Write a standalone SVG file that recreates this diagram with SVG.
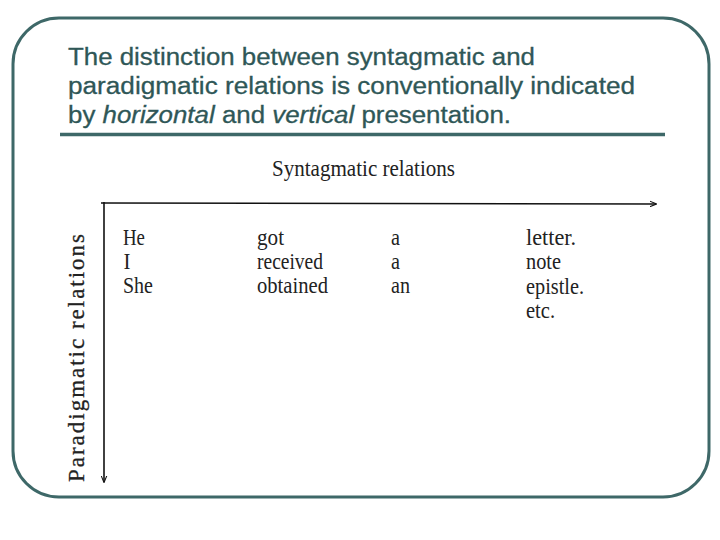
<svg xmlns="http://www.w3.org/2000/svg" width="720" height="540" viewBox="0 0 720 540">
<style>
.title{font-family:"Liberation Sans",Arial,sans-serif;font-size:23.5px;fill:#2f5757;stroke:#2f5757;stroke-width:0.3}
.w{font-family:"Liberation Serif","Times New Roman",serif;font-size:23.5px;fill:#222}
.ax{stroke:#111;stroke-width:1.6;fill:none}
</style>
<defs>
<marker id="ah" viewBox="0 0 10 10" refX="9" refY="5" markerWidth="7" markerHeight="7" orient="auto" markerUnits="userSpaceOnUse">
<path d="M0,1 L10,5 L0,9" fill="none" stroke="#111" stroke-width="1.5"/>
</marker>
</defs>
<rect width="720" height="540" fill="#fff"/>
<rect id="frame" x="13" y="18" width="696" height="479" rx="46" ry="46" fill="none" stroke="#3e6868" stroke-width="3"/>
<g id="title">
<text class="title" x="68" y="65" textLength="467" lengthAdjust="spacingAndGlyphs">The distinction between syntagmatic and</text>
<text class="title" x="68" y="94" textLength="567" lengthAdjust="spacingAndGlyphs">paradigmatic relations is conventionally indicated</text>
<text class="title" x="68" y="123" textLength="443" lengthAdjust="spacingAndGlyphs">by <tspan font-style="italic">horizontal</tspan> and <tspan font-style="italic">vertical</tspan> presentation.</text>
<line x1="60" y1="134.5" x2="665" y2="134.5" stroke="#3e6868" stroke-width="3.5"/>
</g>
<g id="connectors">
<line class="ax" x1="101" y1="203" x2="656" y2="204" marker-end="url(#ah)"/>
<line class="ax" x1="104" y1="202" x2="104" y2="482" marker-end="url(#ah)"/>
</g>
<g id="syn-label"><text class="w" x="272" y="176" textLength="183" lengthAdjust="spacingAndGlyphs">Syntagmatic relations</text></g>
<g id="par-label"><text class="w" transform="translate(84,482) rotate(-90)" x="0" y="0" textLength="250" lengthAdjust="spacingAndGlyphs" style="letter-spacing:2px;font-size:23px;stroke:#222;stroke-width:0.3">Paradigmatic relations</text></g>
<g id="col1">
<text class="w" x="123" y="245" textLength="22" lengthAdjust="spacingAndGlyphs">He</text>
<text class="w" x="123.5" y="269" textLength="7" lengthAdjust="spacingAndGlyphs">I</text>
<text class="w" x="123" y="293" textLength="30" lengthAdjust="spacingAndGlyphs">She</text>
</g>
<g id="col2">
<text class="w" x="257" y="245" textLength="27" lengthAdjust="spacingAndGlyphs">got</text>
<text class="w" x="257" y="269" textLength="66" lengthAdjust="spacingAndGlyphs">received</text>
<text class="w" x="257" y="293" textLength="71" lengthAdjust="spacingAndGlyphs">obtained</text>
</g>
<g id="col3">
<text class="w" x="391" y="245" textLength="9" lengthAdjust="spacingAndGlyphs">a</text>
<text class="w" x="391" y="269" textLength="9" lengthAdjust="spacingAndGlyphs">a</text>
<text class="w" x="391" y="293" textLength="19" lengthAdjust="spacingAndGlyphs">an</text>
</g>
<g id="col4">
<text class="w" x="526" y="245" textLength="50" lengthAdjust="spacingAndGlyphs">letter.</text>
<text class="w" x="526" y="269" textLength="35" lengthAdjust="spacingAndGlyphs">note</text>
<text class="w" x="526" y="294" textLength="58" lengthAdjust="spacingAndGlyphs">epistle.</text>
<text class="w" x="526" y="318" textLength="29" lengthAdjust="spacingAndGlyphs">etc.</text>
</g>
</svg>
